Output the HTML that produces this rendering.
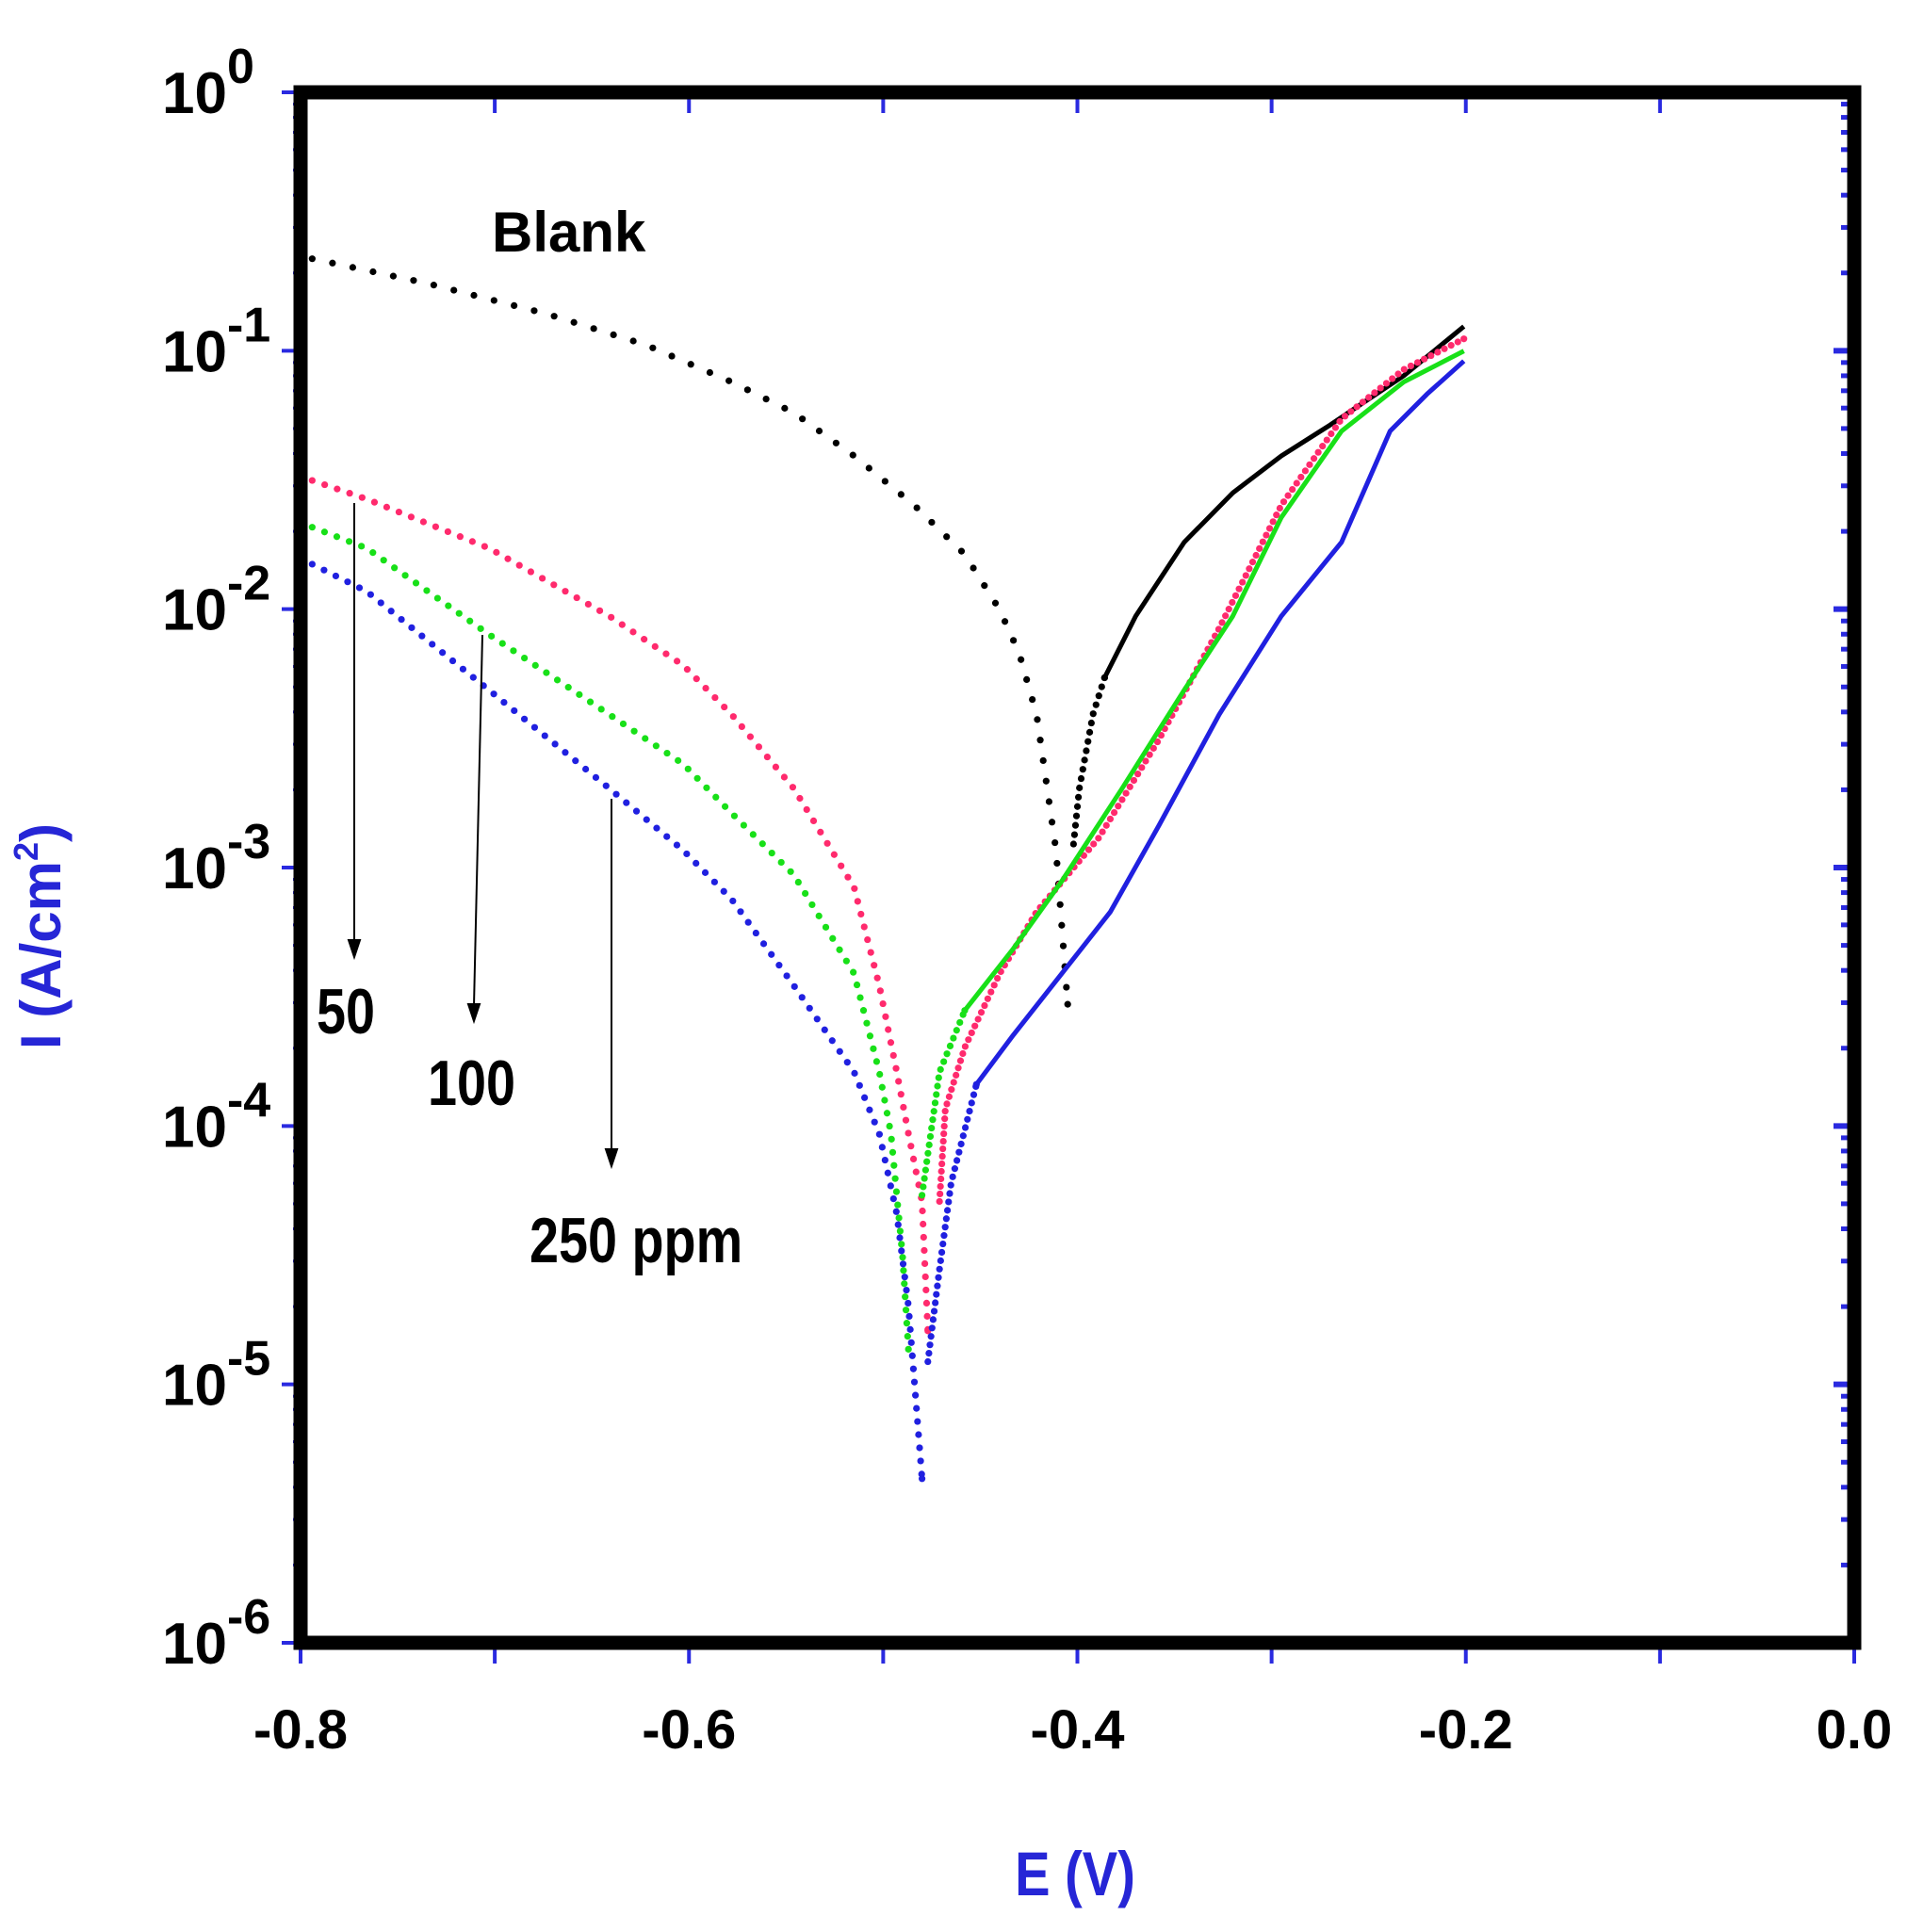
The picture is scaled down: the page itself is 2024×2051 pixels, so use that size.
<!DOCTYPE html>
<html><head><meta charset="utf-8"><style>
html,body{margin:0;padding:0;background:#fff;}
svg{display:block;}
text{font-family:"Liberation Sans",Arial,sans-serif;font-weight:bold;}
</style></head><body>
<svg id="chart" width="2024" height="2051" viewBox="0 0 2024 2051" xmlns="http://www.w3.org/2000/svg">
<g id="ticks"></g>
<g id="series"></g>
<rect x="319" y="98" width="1649" height="1646" fill="none" stroke="#000" stroke-width="15"/>
<g id="labels"></g>
<text x="522" y="267" font-size="60">Blank</text>
<text x="336" y="1097" font-size="68" transform="translate(336,0) scale(0.82,1) translate(-336,0)">50</text>
<text x="454" y="1173" font-size="68" transform="translate(454,0) scale(0.82,1) translate(-454,0)">100</text>
<text x="562" y="1340" font-size="68" transform="translate(562,0) scale(0.82,1) translate(-562,0)">250 ppm</text>
<g stroke="#000" stroke-width="2" fill="#000">
<line x1="376" y1="534" x2="376" y2="1000"/>
<polygon points="370,998 382,998 376,1016"/>
<line x1="512" y1="674" x2="503" y2="1068"/>
<polygon points="497,1066 509,1066 503,1084"/>
<line x1="649" y1="848" x2="649" y2="1222"/>
<polygon points="643,1220 655,1220 649,1238"/>
</g>
<text transform="translate(64,994) rotate(-90)" text-anchor="middle" font-size="60" fill="#2626d6">I (A/cm<tspan dy="-24" font-size="36">2</tspan><tspan dy="24">)</tspan></text>
<text x="1141" y="2012" text-anchor="middle" font-size="66" fill="#2626d6" transform="translate(1141,0) scale(0.85,1) translate(-1141,0)">E (V)</text>
</svg>
<script>
const xTicks = [-0.8, -0.6, -0.4, -0.2, 0.0];
const xTickLabels = ["-0.8", "-0.6", "-0.4", "-0.2", "0.0"];
const yDecades = [0, -1, -2, -3, -4, -5, -6];
const yTickLabels = ["0", "-1", "-2", "-3", "-4", "-5", "-6"];

const blankCathE = [-0.794,-0.735,-0.673,-0.622,-0.578,-0.546,-0.515,-0.484,-0.458,-0.440,-0.430,-0.421,-0.411,-0.405];
const blankCathLog = [-0.644,-0.739,-0.858,-0.978,-1.121,-1.240,-1.407,-1.598,-1.788,-2.003,-2.170,-2.408,-2.933,-3.529];
const blankAnE = [-0.402,-0.399,-0.392,-0.386,-0.370,-0.345,-0.320,-0.295,-0.270,-0.251,-0.232,-0.201];
const blankAnLog = [-2.909,-2.694,-2.408,-2.265,-2.027,-1.741,-1.550,-1.407,-1.288,-1.192,-1.097,-0.906];

const c50CathE = [-0.794,-0.766,-0.703,-0.641,-0.603,-0.578,-0.546,-0.515,-0.502,-0.493,-0.487,-0.480,-0.477];
const c50CathLog = [-1.502,-1.574,-1.764,-2.027,-2.217,-2.408,-2.694,-3.076,-3.457,-3.791,-4.030,-4.292,-4.793];
const c50AnE = [-0.471,-0.468,-0.458,-0.440,-0.421,-0.389,-0.358,-0.327,-0.295,-0.264,-0.232,-0.201];
const c50AnLog = [-4.292,-3.934,-3.696,-3.410,-3.171,-2.885,-2.504,-2.074,-1.598,-1.264,-1.073,-0.954];

const c100CathE = [-0.794,-0.766,-0.703,-0.641,-0.603,-0.578,-0.546,-0.515,-0.502,-0.496,-0.490,-0.487];
const c100CathLog = [-1.683,-1.764,-2.098,-2.408,-2.599,-2.790,-3.028,-3.410,-3.791,-4.030,-4.506,-4.864];
const c100AnE = [-0.480,-0.471,-0.458,-0.433,-0.408,-0.377,-0.345,-0.320,-0.295,-0.264,-0.232,-0.201];
const c100AnLog = [-4.268,-3.791,-3.553,-3.314,-3.052,-2.694,-2.313,-2.027,-1.645,-1.311,-1.121,-1.001];

const c250CathE = [-0.794,-0.766,-0.703,-0.641,-0.603,-0.578,-0.546,-0.515,-0.502,-0.493,-0.487,-0.480];
const c250CathLog = [-1.826,-1.931,-2.313,-2.694,-2.933,-3.123,-3.457,-3.791,-4.030,-4.340,-4.697,-5.365];
const c250AnE = [-0.477,-0.471,-0.465,-0.452,-0.433,-0.408,-0.383,-0.358,-0.327,-0.295,-0.264,-0.239,-0.220,-0.201];
const c250AnLog = [-4.912,-4.554,-4.220,-3.839,-3.648,-3.410,-3.171,-2.837,-2.408,-2.027,-1.741,-1.311,-1.168,-1.040];

const X0 = 319, X1 = 1968, Y0 = 98, Y1 = 1744;
function xs(e){ return X0 + (e + 0.8) / 0.8 * (X1 - X0); }
function ys(l){ return Y0 + (0 - l) / 6 * (Y1 - Y0); }
const NS = "http://www.w3.org/2000/svg";
const gS = document.getElementById('series');
const gT = document.getElementById('ticks');
const gL = document.getElementById('labels');

function pts(E, L){ return E.map((e,i)=>[xs(e), ys(L[i])]); }
function dotted(P, color, name, step){
  let acc = 0;
  const g = document.createElementNS(NS,'g');
  
  
  g.setAttribute('fill', color);
  function dot(x,y){
    const c = document.createElementNS(NS,'circle');
    
    
    c.setAttribute('cx', x); c.setAttribute('cy', y); c.setAttribute('r', 3.6);
    g.appendChild(c);
  }
  dot(P[0][0], P[0][1]);
  for (let i=1;i<P.length;i++){
    const [ax,ay]=P[i-1],[bx,by]=P[i];
    const d=Math.hypot(bx-ax,by-ay);
    let t = step - acc;
    while (t <= d){ dot(ax+(bx-ax)*t/d, ay+(by-ay)*t/d); t += step; }
    acc = d - (t - step);
  }
  dot(P[P.length-1][0], P[P.length-1][1]);
  gS.appendChild(g);
}
function solid(P, color, name){
  const p = document.createElementNS(NS,'polyline');
  
  
  p.setAttribute('points', P.map(q=>q.join(',')).join(' '));
  p.setAttribute('fill','none'); p.setAttribute('stroke',color); p.setAttribute('stroke-width',5);
  p.setAttribute('stroke-linejoin','round');
  gS.appendChild(p);
}
dotted(pts(blankCathE, blankCathLog), '#000', 'blank-cathodic', 22);
const ba = pts(blankAnE, blankAnLog);
dotted(ba.slice(0,4), '#000', 'blank-anodic-start', 10);
solid(ba.slice(3), '#000', 'blank-anodic');
dotted(pts(c50CathE, c50CathLog), '#ff2a6d', 'series-50-cathodic', 14);
dotted(pts(c50AnE, c50AnLog), '#ff2a6d', 'series-50-anodic', 8);
dotted(pts(c100CathE, c100CathLog), '#18e018', 'series-100-cathodic', 14);
const ga = pts(c100AnE, c100AnLog);
dotted(ga.slice(0,3), '#18e018', 'series-100-anodic-start', 9);
solid(ga.slice(2), '#18e018', 'series-100-anodic');
dotted(pts(c250CathE, c250CathLog), '#2020e0', 'series-250-cathodic', 14);
const ua = pts(c250AnE, c250AnLog);
dotted(ua.slice(0,4), '#2020e0', 'series-250-anodic-start', 9);
solid(ua.slice(3), '#2020e0', 'series-250-anodic');

function line(x1,y1,x2,y2,name,w){
  const l=document.createElementNS(NS,'line');
  
  
  l.setAttribute('x1',x1);l.setAttribute('y1',y1);l.setAttribute('x2',x2);l.setAttribute('y2',y2);
  l.setAttribute('stroke','#2a2ae0');l.setAttribute('stroke-width',w||3);
  gT.appendChild(l);
}
for (let e=-0.8; e<=0.0001; e+=0.1){
  const x = xs(e);
  line(x,Y0,x,Y0+22,'x-tick-top',4);
  line(x,Y1,x,Y1+22,'x-tick-bottom',4);
}
yDecades.forEach(d=>{
  const y=ys(d);
  line(X0-20,y,X0,y,'y-tick-major',4);
  line(X1-22,y,X1,y,'y-tick-right',6);
  if (d>-6) for (let m=2;m<10;m++){
    const yy = ys(d-1+Math.log10(m));
    line(X0-8,yy,X0,yy,'y-tick-minor',3);
    line(X1-14,yy,X1,yy,'y-tick-right-minor',5);
  }
});
xTicks.forEach((e,i)=>{
  const t=document.createElementNS(NS,'text');
  
  
  t.setAttribute('x', xs(e)); t.setAttribute('y', 1856);
  t.setAttribute('text-anchor','middle'); t.setAttribute('font-size', 58);
  t.textContent = xTickLabels[i];
  gL.appendChild(t);
});
yDecades.forEach((d,i)=>{
  const t=document.createElementNS(NS,'text');
  
  
  t.setAttribute('x', 172); t.setAttribute('y', ys(d)+22);
  t.setAttribute('font-size', 62);
  t.textContent = '10';
  const s=document.createElementNS(NS,'tspan');
  s.setAttribute('dy','-32'); s.setAttribute('font-size','52');
  s.textContent = yTickLabels[i];
  t.appendChild(s);
  gL.appendChild(t);
});
</script>
</body></html>
